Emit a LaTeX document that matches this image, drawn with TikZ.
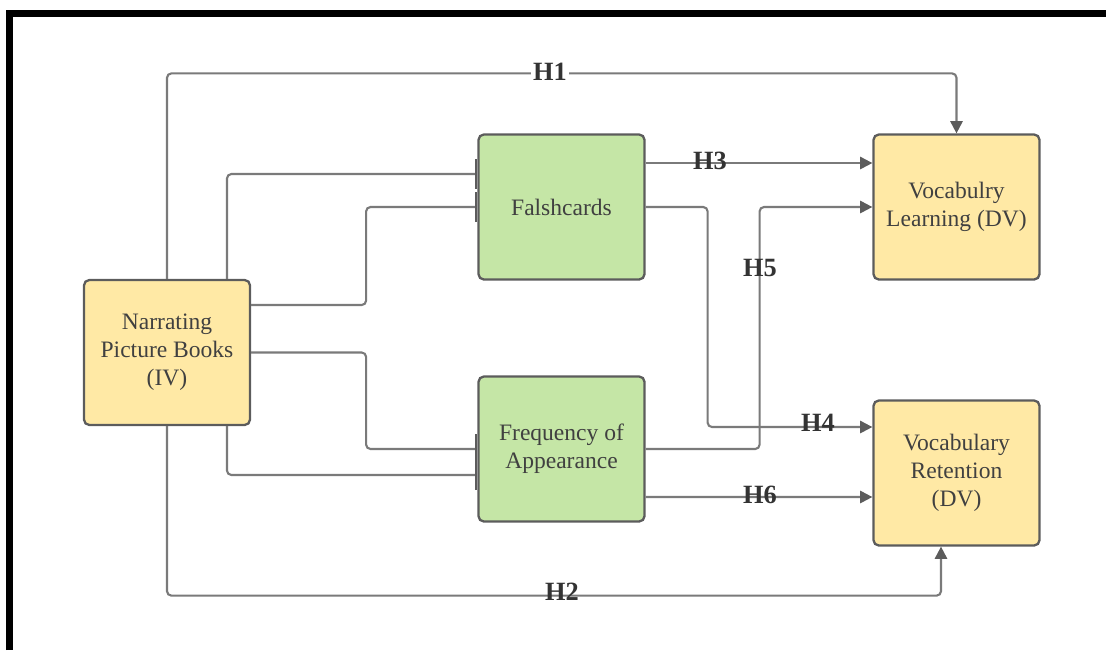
\documentclass[tikz,border=0pt]{standalone}
\usepackage{fontspec}
\setmainfont{Liberation Serif}
\usetikzlibrary{arrows.meta, positioning, calc}
\definecolor{boxline}{HTML}{5C5C5C}
\definecolor{linkgray}{HTML}{7A7A7A}
\definecolor{ivyellow}{HTML}{FFE9A5}
\definecolor{medgreen}{HTML}{C5E6A6}
\definecolor{txtgray}{HTML}{404040}

\begin{document}
\begin{tikzpicture}[x=0.02cm, y=-0.02cm,
	>={Triangle[length=7pt,width=7pt,color=boxline]},
	varbox/.style={draw=boxline, line width=1.3pt, rounded corners=3pt,
		minimum width=3.32cm, minimum height=2.9cm, inner sep=0pt,
		align=center, text=txtgray, font=\fontsize{13.4}{16}\selectfont},
	link/.style={draw=linkgray, line width=1.2pt, rounded corners=2.5pt},
	tee/.style={link, -{Bar[width=17pt,line width=1.6pt,color=boxline]}},
	hyp/.style={text=black!80, inner sep=1pt,
		font=\bfseries\fontsize{15}{15}\selectfont}]
	\useasboundingbox (0,0) rectangle (1106,650);
	% frame, cut off at right and bottom
	\draw[line width=4pt] (9.5,650) -- (9.5,13.5) -- (1106,13.5);
	% variables
	\node[varbox, fill=ivyellow] (iv) at (167,352.5) {Narrating\\Picture Books\\(IV)};
	\node[varbox, fill=medgreen] (fc) at (561.5,207) {Falshcards};
	\node[varbox, fill=medgreen] (fa) at (561.5,449) {Frequency of\\Appearance};
	\node[varbox, fill=ivyellow] (vl) at (956.5,207) {Vocabulry\\Learning (DV)};
	\node[varbox, fill=ivyellow] (vr) at (956.5,473) {Vocabulary\\Retention\\(DV)};
	% IV into the two moderators
	\draw[tee] ([xshift=1.2cm]iv.north) |- ([yshift=0.66cm]fc.west);
	\draw[tee] ([yshift=0.95cm]iv.east) -- ++(2.3cm,0) |- (fc.west);
	\draw[tee] (iv.east) -- ++(2.3cm,0) |- (fa.west);
	\draw[tee] ([xshift=1.2cm]iv.south) |- ([yshift=-0.52cm]fa.west);
	% direct paths H1, H2
	\draw[link,->] (iv.north) |- ([yshift=1.2cm]vl.north) -- (vl.north);
	\draw[link,->] (iv.south) |- ([xshift=-0.31cm,yshift=-0.98cm]vr.south)
		-- ([xshift=-0.31cm]vr.south);
	\node[hyp, fill=white] (h1) at (550,72) {H1};
	\node[hyp] (h2) at (562,592) {H2};
	% moderator paths H3 to H6
	\draw[link,->] ([yshift=0.88cm]fc.east) -- ([yshift=0.88cm]vl.west);
	\draw[link,->] (fc.east) -- ++(1.24cm,0) |- ([yshift=0.92cm]vr.west);
	\draw[link,->] (fa.east) -- ++(2.28cm,0) |- (vl.west);
	\draw[link,->] ([yshift=-0.96cm]fa.east) -- ([yshift=-0.48cm]vr.west);
	\node[hyp] (h3) at (710,161) {H3};
	\node[hyp] (h4) at (818,423) {H4};
	\node[hyp] (h5) at (760,268) {H5};
	\node[hyp] (h6) at (760,495) {H6};
\end{tikzpicture}
\end{document}
